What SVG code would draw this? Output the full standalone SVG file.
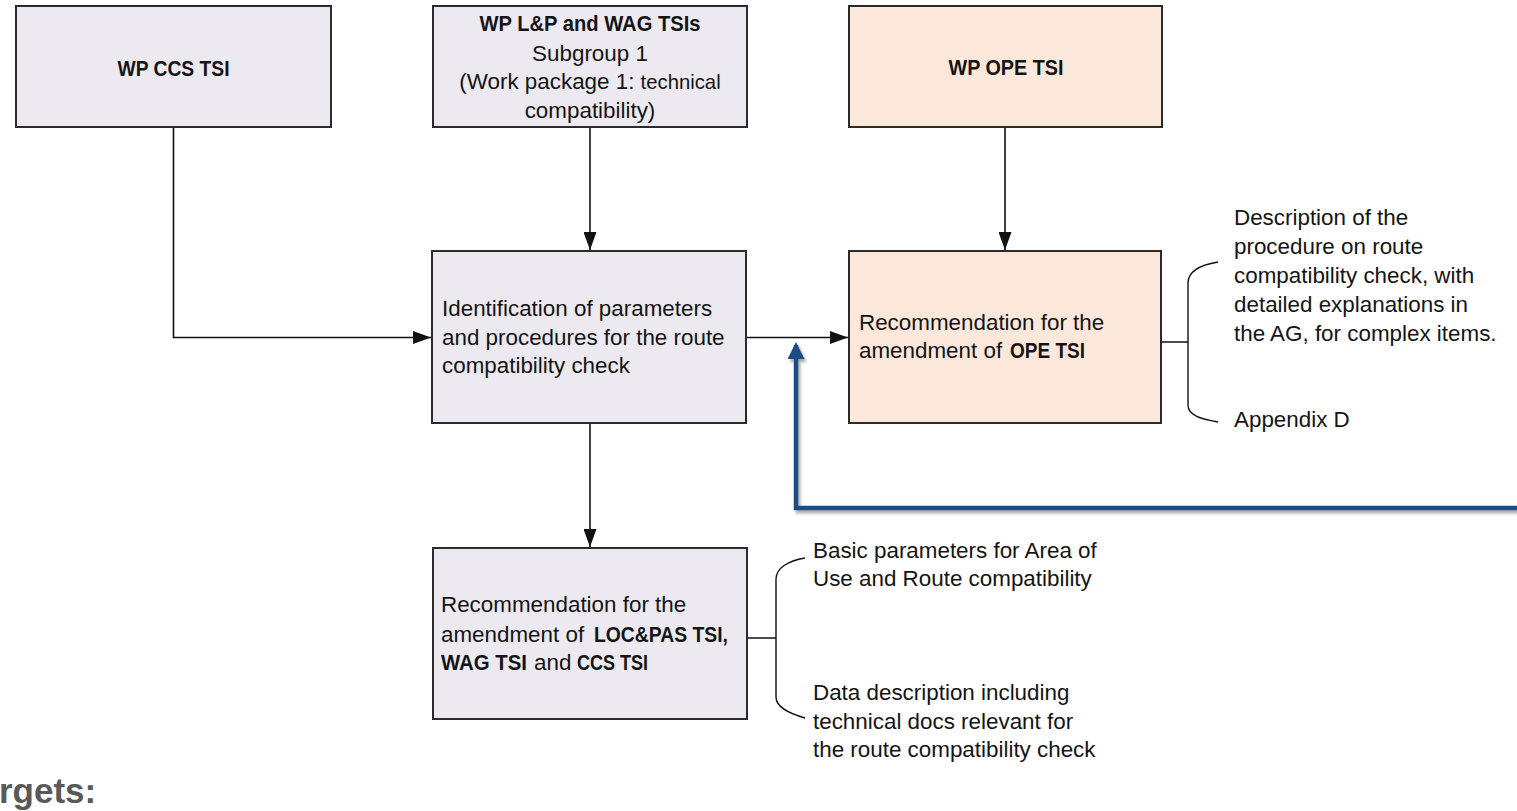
<svg xmlns="http://www.w3.org/2000/svg" width="1517" height="811" viewBox="0 0 1517 811">
  <defs>
    <style>
      .box { stroke: #2b2b2b; stroke-width: 2; }
      .lav { fill: #ECE9F1; }
      .peach { fill: #FCE8DA; }
      .t { font-family: "Liberation Sans", Arial, sans-serif; font-size: 22.4px; fill: #141414; }
      .b { font-weight: bold; }
      .conn { fill: none; stroke: #111; stroke-width: 1.6; }
      .brace { fill: none; stroke: #111; stroke-width: 1.4; }
      .blue { fill: none; stroke: #1F4E80; stroke-width: 4.5; }
    </style>
    <marker id="ah" markerUnits="userSpaceOnUse" markerWidth="18" markerHeight="13" refX="18" refY="6.5" orient="auto">
      <path d="M0,0 L18,6.5 L0,13 z" fill="#111"/>
    </marker>
    <marker id="ahBlue" markerUnits="userSpaceOnUse" markerWidth="17" markerHeight="17" refX="14" refY="8.5" orient="auto">
      <path d="M0,0 L17,8.5 L0,17 z" fill="#1F4E80"/>
    </marker>
    <filter id="shadow" x="-5%" y="-20%" width="110%" height="140%">
      <feDropShadow dx="2" dy="3" stdDeviation="1.6" flood-color="#000" flood-opacity="0.35"/>
    </filter>
  </defs>

  <g id="connectors">
    <path class="conn" d="M173.5,127 V337.5 H431" marker-end="url(#ah)"/>
    <path class="conn" d="M590,127 V250" marker-end="url(#ah)"/>
    <path class="conn" d="M1005,127 V250" marker-end="url(#ah)"/>
    <path class="conn" d="M746,337.5 H848" marker-end="url(#ah)"/>
    <path class="conn" d="M590,423 V547" marker-end="url(#ah)"/>
    <path class="brace" d="M1161,342 H1188 M1218,262 C1200,265 1188,272 1188,283 V405 C1188,415 1200,419 1218,422"/>
    <path class="brace" d="M747,638 H776 M805,558 C788,561 776,568 776,579 V697 C776,707 788,713 805,718"/>
    <path class="blue" filter="url(#shadow)" d="M1525,508 H796 V345" marker-end="url(#ahBlue)"/>
  </g>

  <g id="node-wp-ccs">
    <rect class="box lav" x="16" y="6" width="315" height="121"/>
    <text class="t b" x="173.5" y="76" font-size="21.5" text-anchor="middle" textLength="112" lengthAdjust="spacingAndGlyphs">WP CCS TSI</text>
  </g>

  <g id="node-wp-lp-wag">
    <rect class="box lav" x="433" y="6" width="314" height="121"/>
    <text class="t b" x="590" y="31" font-size="21" text-anchor="middle" textLength="221" lengthAdjust="spacingAndGlyphs">WP L&amp;P and WAG TSIs</text>
    <text class="t" x="590" y="61" font-size="21.5" text-anchor="middle">Subgroup 1</text>
    <text class="t" x="590" y="89" font-size="21.8" text-anchor="middle">(Work package 1: <tspan font-size="20.3">technical</tspan></text>
    <text class="t" x="590" y="118" font-size="21" text-anchor="middle">compatibility)</text>
  </g>

  <g id="node-wp-ope">
    <rect class="box peach" x="849" y="6" width="313" height="121"/>
    <text class="t b" x="1006" y="75" font-size="21.5" text-anchor="middle" textLength="115" lengthAdjust="spacingAndGlyphs">WP OPE TSI</text>
  </g>

  <g id="node-identification">
    <rect class="box lav" x="432" y="251" width="314" height="172"/>
    <text class="t" x="442" y="316">Identification of parameters</text>
    <text class="t" x="442" y="345">and procedures for the route</text>
    <text class="t" x="442" y="373">compatibility check</text>
  </g>

  <g id="node-rec-ope">
    <rect class="box peach" x="849" y="251" width="312" height="172"/>
    <text class="t" x="859" y="330">Recommendation for the</text>
    <text class="t" x="859" y="358">amendment of</text>
    <text class="t b" x="1010" y="358" textLength="75" lengthAdjust="spacingAndGlyphs">OPE TSI</text>
  </g>

  <g id="note-ope">
    <text class="t" x="1234" y="225">Description of the</text>
    <text class="t" x="1234" y="254">procedure on route</text>
    <text class="t" x="1234" y="283">compatibility check, with</text>
    <text class="t" x="1234" y="312">detailed explanations in</text>
    <text class="t" x="1234" y="341">the AG, for complex items.</text>
    <text class="t" x="1234" y="427">Appendix D</text>
  </g>

  <g id="node-rec-loc">
    <rect class="box lav" x="433" y="548" width="314" height="171"/>
    <text class="t" x="441" y="612">Recommendation for the</text>
    <text class="t" x="441" y="642">amendment of</text>
    <text class="t b" x="594" y="642" textLength="134" lengthAdjust="spacingAndGlyphs">LOC&amp;PAS TSI,</text>
    <text class="t b" x="441" y="670" textLength="86" lengthAdjust="spacingAndGlyphs">WAG TSI</text>
    <text class="t" x="534" y="670">and</text>
    <text class="t b" x="577" y="670" textLength="71" lengthAdjust="spacingAndGlyphs">CCS TSI</text>
  </g>

  <g id="note-loc">
    <text class="t" x="813" y="558">Basic parameters for Area of</text>
    <text class="t" x="813" y="586">Use and Route compatibility</text>
    <text class="t" x="813" y="700">Data description including</text>
    <text class="t" x="813" y="729">technical docs relevant for</text>
    <text class="t" x="813" y="757">the route compatibility check</text>
  </g>

  <g id="label-targets">
    <text x="-1" y="803" font-family="Liberation Sans, Arial, sans-serif" font-weight="bold" font-size="35" fill="#595959">rgets:</text>
  </g>
</svg>
